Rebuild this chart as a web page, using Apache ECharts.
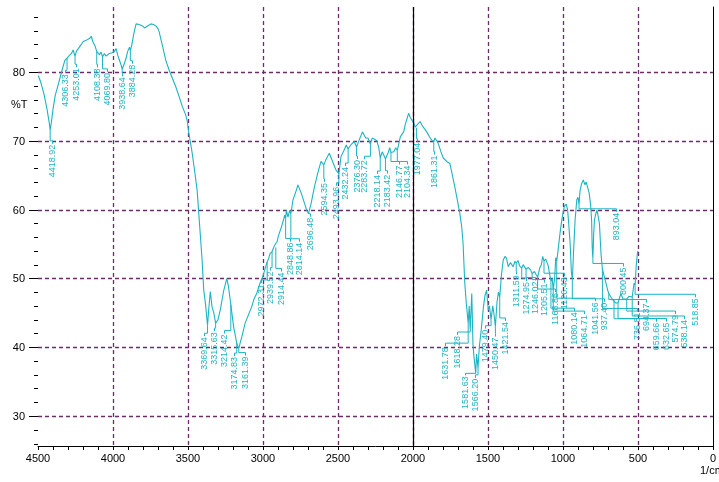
<!DOCTYPE html>
<html>
<head>
<meta charset="utf-8">
<script src="https://cdn.jsdelivr.net/npm/echarts@6/dist/echarts.min.js"></script>
<style>
  html, body { margin: 0; padding: 0; background: #ffffff; }
  #chart { width: 719px; height: 482px; }
</style>
</head>
<body>
<div id="chart"></div>
<script>
// IR spectrum: wavenumber (1/cm) against transmittance (%T)
const wavenumber = [
  4498, 4480, 4460, 4440, 4425, 4418.92, 4410, 4400, 4385, 4366, 4343, 4321, 4306.33, 4295, 4277, 4266,
  4253.01, 4244, 4233, 4215, 4200, 4180, 4167, 4155, 4145, 4134, 4120, 4108.38, 4100, 4090, 4080, 4069.8,
  4057, 4046, 4035, 4024, 4005, 3990, 3979, 3969, 3955, 3946, 3938.64, 3925, 3913, 3902, 3890, 3884.28,
  3876, 3866, 3858, 3846, 3825, 3803, 3790, 3780, 3762, 3747, 3730, 3714, 3700, 3693, 3670, 3648,
  3626, 3604, 3582, 3560, 3538, 3516, 3505, 3494, 3472, 3455, 3439, 3420, 3406, 3395, 3384, 3369.64,
  3362, 3351, 3340, 3328, 3315.63, 3300, 3285, 3263, 3241, 3230, 3214.42, 3196, 3174.83, 3161.39, 3150, 3141,
  3119, 3097, 3075, 3060, 3042, 3020, 2998, 2985, 2972.31, 2962, 2953, 2939.52, 2932, 2925, 2914.44, 2905,
  2898, 2877, 2862, 2855, 2848.86, 2844, 2833, 2822, 2814.14, 2800, 2778, 2767, 2745, 2723, 2710, 2696.48,
  2679, 2657, 2635, 2613, 2603, 2594.35, 2580, 2558, 2536, 2514, 2493.96, 2480, 2458, 2445, 2432.24, 2414,
  2392, 2384, 2376.3, 2359, 2337, 2315, 2300, 2283.72, 2272, 2260, 2240, 2227, 2218.14, 2205, 2194, 2183.42,
  2165, 2155, 2146.77, 2128, 2115, 2104.34, 2084, 2062, 2051, 2029, 2018, 2007, 1995, 1985, 1977.04, 1965,
  1952, 1941, 1925, 1908, 1890, 1875, 1861.31, 1853, 1831, 1815, 1798, 1775, 1754, 1740, 1721, 1705,
  1688, 1675, 1666, 1655, 1645, 1631.78, 1625, 1618.28, 1608, 1600, 1595, 1581.63, 1576, 1566.2, 1558, 1545,
  1530, 1520, 1509, 1498, 1490, 1479.4, 1468, 1458, 1450.47, 1440, 1430, 1421.54, 1410, 1398, 1385, 1376,
  1365, 1350, 1332, 1320, 1311.59, 1300, 1288, 1274.95, 1265, 1246.02, 1232, 1215, 1205.51, 1190, 1180, 1168.86,
  1155, 1144, 1135, 1126.43, 1115, 1099, 1088, 1080.14, 1072, 1064.71, 1055, 1048, 1041.56, 1033, 1020, 1011,
  1000, 990, 978, 969, 960, 952, 944, 937.4, 930, 919, 908, 900, 893.04, 886, 875, 864,
  853, 845, 838, 825, 815, 809, 805, 800.45, 795, 790, 780, 773, 765, 757, 746, 736.81,
  730, 724, 713, 702, 694.37, 680, 669, 659.66, 647, 632.65, 625, 614, 600, 592, 574.79, 560,
  548, 538.14, 526, 518.85, 512, 504, 500
];
const transmittance = [
  79.5, 78.4, 76.8, 74.6, 72.6, 71.6, 72.8, 74.6, 76.6, 78.1, 80.0, 81.7, 82.0, 82.3, 82.7, 83.2,
  82.3, 83.0, 83.2, 83.9, 84.4, 84.6, 84.7, 84.9, 85.2, 84.4, 83.8, 83.0, 83.1, 82.5, 82.9, 82.2,
  82.7, 82.3, 82.5, 82.7, 82.8, 83.0, 83.4, 82.5, 81.6, 81.0, 80.4, 81.2, 82.0, 83.0, 83.6, 83.1,
  83.8, 85.0, 85.9, 87.0, 86.9, 86.7, 86.4, 86.4, 86.8, 87.0, 86.9, 86.7, 86.3, 85.9, 83.8, 81.7,
  80.3, 79.1, 77.9, 76.5, 75.0, 73.8, 72.9, 71.1, 68.2, 65.5, 62.8, 57.0, 52.7, 48.3, 46.4, 43.2,
  45.4, 48.1, 45.9, 45.0, 43.5, 44.0, 45.4, 48.1, 50.0, 48.8, 46.2, 43.0, 40.6, 39.8, 40.8, 41.5,
  43.5, 44.7, 45.9, 47.0, 47.8, 49.3, 50.5, 51.5, 52.4, 52.9, 53.6, 53.9, 54.3, 54.7, 54.5, 55.4,
  56.1, 57.5, 58.6, 59.2, 58.7, 59.9, 58.9, 59.9, 59.4, 61.4, 62.8, 63.6, 62.4, 60.9, 60.0, 59.4,
  60.9, 63.3, 65.3, 67.0, 67.2, 66.5, 67.3, 68.2, 67.0, 65.8, 65.2, 67.7, 68.7, 69.4, 68.8, 69.4,
  69.9, 69.8, 69.1, 70.1, 71.3, 70.4, 70.4, 69.5, 70.4, 70.6, 70.0, 68.9, 67.5, 68.4, 68.2, 67.4,
  68.3, 69.0, 68.3, 68.4, 69.0, 68.6, 70.6, 71.3, 72.4, 74.0, 73.4, 73.3, 72.6, 72.0, 71.9, 72.5,
  72.8, 72.3, 71.8, 71.3, 70.6, 70.1, 69.9, 70.4, 69.6, 68.5, 67.5, 67.0, 66.7, 65.3, 63.3, 61.5,
  59.5, 57.5, 55.1, 49.5, 46.5, 43.5, 46.0, 42.5, 47.8, 40.5, 39.0, 36.2, 39.0, 37.0, 40.0, 42.5,
  45.9, 47.5, 48.3, 45.4, 46.0, 44.0, 46.0, 44.5, 43.0, 46.5, 48.0, 47.3, 50.5, 52.7, 53.2, 52.9,
  51.7, 52.3, 51.7, 52.5, 52.2, 52.6, 51.8, 51.5, 52.0, 51.3, 51.6, 51.2, 50.7, 51.0, 50.6, 50.2,
  51.5, 52.0, 53.2, 52.5, 52.8, 51.9, 50.5, 49.6, 50.0, 48.3, 50.2, 53.0, 52.5, 54.0, 56.5, 58.0,
  59.5, 60.5, 60.8, 60.0, 57.5, 55.0, 51.0, 49.8, 53.6, 58.5, 61.4, 61.8, 60.7, 62.8, 63.8, 64.3,
  63.6, 64.0, 63.8, 62.4, 60.5, 58.5, 54.5, 52.9, 56.5, 58.5, 59.5, 59.9, 59.0, 58.0, 53.5, 51.3,
  50.8, 50.2, 49.3, 48.3, 47.8, 47.3, 46.9, 46.9, 46.4, 46.5, 46.6, 47.8, 47.0, 46.9, 47.0, 47.4,
  47.3, 47.3, 49.3, 49.0, 51.7, 53.6, 54.0
];

// Picked peaks
const peakWavenumber = [
  4418.92, 4306.33, 4253.01, 4108.38, 4069.80, 3938.64, 3884.28,
  3369.64, 3315.63, 3214.42, 3174.83, 3161.39,
  2972.31, 2939.52, 2914.44, 2848.86, 2814.14, 2696.48, 2594.35, 2493.96,
  2432.24, 2376.30, 2283.72, 2218.14, 2183.42, 2146.77, 2104.34, 1977.04, 1861.31,
  1631.78, 1618.28, 1581.63, 1566.20, 1479.40, 1450.47, 1421.54,
  1311.59, 1274.95, 1246.02, 1205.51, 1168.86, 1126.43, 1080.14, 1064.71, 1041.56,
  937.40, 893.04, 800.45, 736.81, 694.37, 659.66, 632.65, 574.79, 538.14, 518.85
];
const peakTransmittance = [
  71.6, 82.0, 82.3, 83.0, 82.2, 80.4, 83.1,
  43.2, 43.5, 46.2, 40.6, 39.8,
  52.4, 53.9, 54.5, 58.7, 59.4, 59.4, 66.5, 65.2,
  68.8, 69.1, 69.5, 67.5, 67.4, 68.3, 68.6, 71.9, 69.9,
  43.5, 42.5, 36.2, 37.0, 44.0, 43.0, 47.3,
  52.2, 51.5, 51.3, 50.7, 50.2, 52.5, 49.6, 48.3, 52.5,
  49.8, 60.7, 52.9, 51.3, 47.8, 46.9, 46.5, 47.0, 47.3, 49.0
];

// Label placement: [horizontal shift, drop] in pixels from each peak
const peakLabelShift = [
  [2, 15], [-2, 16], [1, 12], [0, 17], [4, 16], [0, 8], [2, 14],
  [-4, 12], [-2, 9], [-7, 30], [-3, 14], [6, 8],
  [-6, 22], [-2, 20], [5, 25], [4, 24], [8, 29], [1, 4], [0, 18], [-3, 13],
  [-3, 18], [0, 13], [-6, 16], [-3, 17], [2, 16], [8, 13], [10, 15], [1, 15], [0, 14],
  [-23, 24], [-13, 6], [-11, 3], [-3, 11], [-6, 10], [0, 11], [5, 25],
  [0, 12], [4, 14], [9, 12], [12, 10], [17, 16], [20, 16], [23, 31], [31, 25], [38, 41],
  [32, 23], [37, 8], [30, 9], [35, 43], [37, 10], [42, 23], [48, 20], [48, 16], [52, 23], [60, 13]
];

const yTickValues = [30, 40, 50, 60, 70, 80];
const Y_MIN = 25.64, Y_MAX = 89.45;
const X_MIN = 0, X_MAX = 4500;

const TEAL = '#1db4c2';
const GRID = '#6c2c6c';
const AXIS_FONT = '11px "Liberation Sans", Arial, sans-serif';
const PEAK_FONT = '9px "Liberation Sans", Arial, sans-serif';

const minorYTicks = [];
for (let v = 26; v <= 88; v += 2) {
  if (v % 10 !== 0) minorYTicks.push([X_MAX, v]);
}

const spectrum = wavenumber.map((w, i) => [w, transmittance[i]]);
const peaks = peakWavenumber.map((w, i) => [w, peakTransmittance[i]]);

const chart = echarts.init(document.getElementById('chart'), null, { renderer: 'canvas' });

chart.setOption({
  animation: false,
  backgroundColor: '#ffffff',
  grid: { left: 38, right: 1, top: 7, bottom: 36, containLabel: false },
  xAxis: {
    type: 'value',
    min: X_MIN,
    max: X_MAX,
    interval: 500,
    inverse: true,
    axisLine: { show: true, onZero: false, lineStyle: { color: '#000', width: 1 } },
    axisTick: { show: true, length: 4, lineStyle: { color: '#000' } },
    minorTick: { show: true, splitNumber: 5, length: 4, lineStyle: { color: '#000' } },
    axisLabel: {
      color: '#000', fontSize: 11, margin: 7,
      fontFamily: '"Liberation Sans", Arial, sans-serif',
      formatter: v => String(v)
    },
    splitLine: {
      show: true, showMinLine: false, showMaxLine: false,
      lineStyle: { color: GRID, type: [4, 3], width: 1.3 }
    }
  },
  yAxis: {
    type: 'value',
    min: Y_MIN,
    max: Y_MAX,
    axisLine: { show: true, lineStyle: { color: '#000', width: 1 } },
    axisTick: { show: false },
    axisLabel: { show: false },
    splitLine: { show: false }
  },
  graphic: [
    { type: 'text', left: 11, top: 99, style: { text: '%T', font: AXIS_FONT, fill: '#000' } },
    { type: 'text', left: 700, top: 465, style: { text: '1/cm', font: AXIS_FONT, fill: '#000' } }
  ],
  series: [
    {
      // horizontal grid lines, major ticks and labels of the %T axis
      type: 'custom',
      z: 1,
      clip: false,
      silent: true,
      encode: { x: 0, y: 1 },
      data: yTickValues.map(v => [X_MAX, v]),
      renderItem: function (params, api) {
        const v = api.value(1);
        const l = api.coord([X_MAX, v]);
        const r = api.coord([X_MIN, v]);
        const y = Math.round(l[1]) + 0.5;
        return {
          type: 'group',
          children: [
            { type: 'line', shape: { x1: l[0], y1: y, x2: r[0], y2: y },
              style: { stroke: GRID, lineWidth: 1.3, lineDash: [4, 3] } },
            { type: 'line', shape: { x1: l[0] - 9, y1: y, x2: l[0], y2: y },
              style: { stroke: '#000', lineWidth: 1 } },
            { type: 'text', x: l[0] - 13, y: y,
              style: { text: String(v), align: 'right', verticalAlign: 'middle', font: AXIS_FONT, fill: '#000' } }
          ]
        };
      }
    },
    {
      // minor ticks of the %T axis
      type: 'custom',
      z: 1,
      clip: false,
      silent: true,
      encode: { x: 0, y: 1 },
      data: minorYTicks,
      renderItem: function (params, api) {
        const p = api.coord([X_MAX, api.value(1)]);
        const y = Math.round(p[1]) + 0.5;
        return { type: 'line', shape: { x1: p[0] - 4, y1: y, x2: p[0], y2: y },
                 style: { stroke: '#000', lineWidth: 1 } };
      }
    },
    {
      type: 'line',
      z: 3,
      data: spectrum,
      showSymbol: false,
      symbol: 'none',
      smooth: false,
      lineStyle: { color: TEAL, width: 1.1 },
      markLine: {
        silent: true,
        symbol: 'none',
        label: { show: false },
        lineStyle: { color: '#000', type: 'solid', width: 1.2 },
        data: [{ xAxis: 2000 }]
      }
    },
    {
      // peak markers: leader line and vertical wavenumber label
      type: 'custom',
      z: 4,
      clip: false,
      silent: true,
      encode: { x: 0, y: 1 },
      data: peaks,
      renderItem: function (params, api) {
        const i = params.dataIndex;
        const p = api.coord([api.value(0), api.value(1)]);
        const s = peakLabelShift[i];
        const lx = Math.round(p[0] + s[0]) + 0.5;
        const top = p[1] + s[1];
        const elbow = Math.max(p[1], top - 4);
        return {
          type: 'group',
          children: [
            { type: 'polyline',
              shape: { points: [[p[0], p[1]], [p[0], elbow], [lx, elbow], [lx, top - 1]] },
              style: { stroke: TEAL, lineWidth: 1, fill: null } },
            { type: 'text', x: lx, y: top, rotation: Math.PI / 2,
              style: { text: peakWavenumber[i].toFixed(2), x: 0, y: 0, align: 'right',
                       verticalAlign: 'middle', font: PEAK_FONT, fill: TEAL } }
          ]
        };
      }
    }
  ]
});
</script>
</body>
</html>
